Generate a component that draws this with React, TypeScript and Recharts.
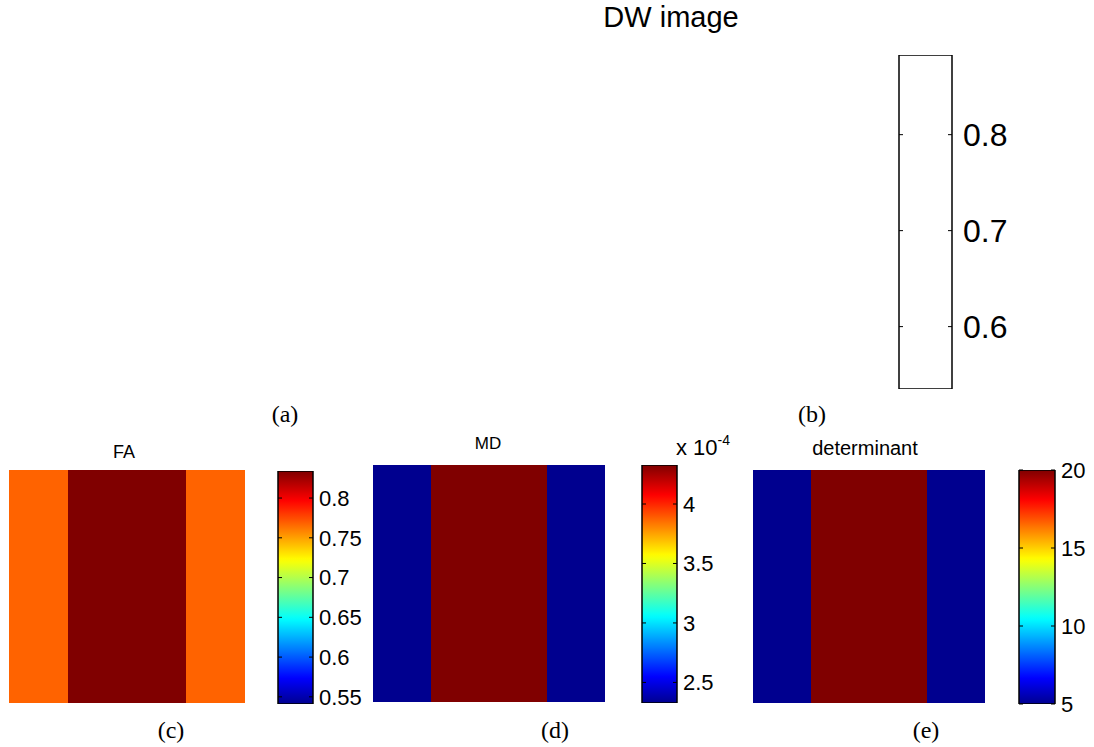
import React from 'react'
import { BarChart, Bar, XAxis, YAxis, Cell } from 'recharts'

/* ------------------------------------------------------------------ */
/*  Data                                                               */
/* ------------------------------------------------------------------ */

// image columns (left to right), each panel is 4 equal-width columns
const COLUMNS = ['col1', 'col2', 'col3', 'col4']

const FA_VALUES = [0.768, 0.834, 0.834, 0.768]
const MD_VALUES = [2.327, 4.328, 4.328, 2.327] // x 10^-4
const DET_VALUES = [5, 20, 20, 5]

// colour limits of each colorbar
const FA_RANGE: [number, number] = [0.541, 0.834]
const MD_RANGE: [number, number] = [2.327, 4.328]
const DET_RANGE: [number, number] = [5, 20]
const DW_RANGE: [number, number] = [0.535, 0.883]

const FA_TICKS = [0.55, 0.6, 0.65, 0.7, 0.75, 0.8]
const MD_TICKS = [2.5, 3, 3.5, 4]
const DET_TICKS = [5, 10, 15, 20]
const DW_TICKS = [0.6, 0.7, 0.8]

const SANS = '"Liberation Sans", Arial, Helvetica, sans-serif'
const SERIF = '"Liberation Serif", "Times New Roman", serif'

/* ------------------------------------------------------------------ */
/*  MATLAB jet colormap                                                */
/* ------------------------------------------------------------------ */

const ramp = (j: number): number => {
  if (j <= 0 || j >= 48) return 0
  if (j <= 16) return j / 16
  if (j <= 32) return 1
  return (48 - j) / 16
}

const jet = (f: number): string => {
  const t = Math.max(0, Math.min(1, f))
  const k = 1 + t * 63
  const c = (v: number) => Math.round(v * 255)
  return `rgb(${c(ramp(k - 24))},${c(ramp(k - 8))},${c(ramp(k + 8))})`
}

const jetOf = (v: number, range: [number, number]) =>
  jet((v - range[0]) / (range[1] - range[0]))

const JET_STOPS = Array.from({ length: 65 }, (_, i) => i / 64)

/* ------------------------------------------------------------------ */
/*  Stripe image                                                       */
/* ------------------------------------------------------------------ */

interface ImageProps {
  values: number[]
  range: [number, number]
  width: number
  height: number
}

function StripeImage({ values, range, width, height }: ImageProps) {
  const data = COLUMNS.map((col, i) => ({ col, value: values[i], rows: 1 }))
  return (
    <BarChart
      width={width}
      height={height}
      data={data}
      margin={{ top: 0, right: 0, bottom: 0, left: 0 }}
      barCategoryGap={0}
      barGap={0}
    >
      <XAxis dataKey="col" hide />
      <YAxis hide domain={[0, 1]} />
      <Bar dataKey="rows" isAnimationActive={false} shapeRendering="crispEdges">
        {data.map((d) => (
          <Cell key={d.col} fill={jetOf(d.value, range)} shapeRendering="crispEdges" />
        ))}
      </Bar>
    </BarChart>
  )
}

/* ------------------------------------------------------------------ */
/*  Colorbar                                                           */
/* ------------------------------------------------------------------ */

interface ColorbarProps {
  id: string
  range: [number, number]
  ticks: number[]
  barWidth: number
  barHeight: number
  axisWidth: number
  fontSize: number
  gap: number
  jetFill?: boolean
}

function Colorbar({ id, range, ticks, barWidth, barHeight, axisWidth, fontSize, gap, jetFill = true }: ColorbarProps) {
  const pad = Math.ceil(fontSize * 0.6)
  const left = 1
  const right = left + barWidth
  const data = [{ name: 'cb', top: range[1] }]

  const renderTick = (props: any) => {
    const { y, payload } = props
    return (
      <g>
        <line x1={left} x2={left + 4} y1={y} y2={y} stroke="#000" strokeWidth={1} />
        <line x1={right - 4} x2={right} y1={y} y2={y} stroke="#000" strokeWidth={1} />
        <text x={right + gap} y={y} dy="0.36em" fontSize={fontSize} fontFamily={SANS} fill="#000">
          {String(payload.value)}
        </text>
      </g>
    )
  }

  return (
    <BarChart
      width={left + barWidth + axisWidth}
      height={barHeight + pad * 2}
      data={data}
      margin={{ top: pad, bottom: pad, left, right: 0 }}
      barCategoryGap={0}
    >
      <defs>
        <linearGradient id={id} x1="0" y1="1" x2="0" y2="0">
          {JET_STOPS.map((s) => (
            <stop key={s} offset={`${s * 100}%`} stopColor={jet(s)} />
          ))}
        </linearGradient>
      </defs>
      <XAxis dataKey="name" hide />
      <YAxis
        orientation="right"
        type="number"
        domain={range}
        ticks={ticks}
        interval={0}
        tick={renderTick}
        tickLine={false}
        axisLine={false}
        width={axisWidth}
        allowDataOverflow
      />
      <Bar
        dataKey="top"
        fill={jetFill ? `url(#${id})` : '#ffffff'}
        stroke="#000"
        strokeWidth={1.5}
        isAnimationActive={false}
      />
    </BarChart>
  )
}

/* ------------------------------------------------------------------ */
/*  Layout                                                             */
/* ------------------------------------------------------------------ */

const place = (left: number, top: number): React.CSSProperties => ({
  position: 'absolute',
  left,
  top,
})

export default function App() {
  return (
    <div
      style={{
        position: 'absolute',
        left: 0,
        top: 0,
        width: 1094,
        height: 747,
        background: '#fff',
        overflow: 'hidden',
      }}
    >
      {/* (b) DW colorbar */}
      <div style={place(898, 55 - 20)}>
        <Colorbar id="dwGrad" range={DW_RANGE} ticks={DW_TICKS} barWidth={53} barHeight={334}
          axisWidth={100} fontSize={32} gap={11} jetFill={false} />
      </div>

      {/* (c) FA */}
      <div style={place(9, 470)}>
        <StripeImage values={FA_VALUES} range={FA_RANGE} width={236} height={233} />
      </div>
      <div style={place(277, 471 - 14)}>
        <Colorbar id="faGrad" range={FA_RANGE} ticks={FA_TICKS} barWidth={35} barHeight={233}
          axisWidth={70} fontSize={22} gap={6} />
      </div>

      {/* (d) MD */}
      <div style={place(373, 465)}>
        <StripeImage values={MD_VALUES} range={MD_RANGE} width={232} height={237} />
      </div>
      <div style={place(641, 465 - 14)}>
        <Colorbar id="mdGrad" range={MD_RANGE} ticks={MD_TICKS} barWidth={35} barHeight={238}
          axisWidth={55} fontSize={22} gap={6} />
      </div>

      {/* (e) determinant */}
      <div style={place(753, 470)}>
        <StripeImage values={DET_VALUES} range={DET_RANGE} width={232} height={233} />
      </div>
      <div style={place(1018, 470 - 14)}>
        <Colorbar id="detGrad" range={DET_RANGE} ticks={DET_TICKS} barWidth={36} barHeight={234}
          axisWidth={40} fontSize={22} gap={6} />
      </div>

      {/* titles and panel labels */}
      <svg width={1094} height={747} style={{ position: 'absolute', left: 0, top: 0, pointerEvents: 'none' }}>
        <text x={671} y={27} textAnchor="middle" fontSize={29} fontFamily={SANS}>DW image</text>
        <text x={124} y={458} textAnchor="middle" fontSize={18} fontFamily={SANS}>FA</text>
        <text x={488} y={449} textAnchor="middle" fontSize={17} fontFamily={SANS}>MD</text>
        <text x={865} y={455} textAnchor="middle" fontSize={20} fontFamily={SANS}>determinant</text>
        <text x={676} y={455} fontSize={22} fontFamily={SANS}>
          x 10
          <tspan fontSize={14} dy={-10}>-4</tspan>
        </text>

        <text x={285} y={422} textAnchor="middle" fontSize={24} fontFamily={SERIF}>(a)</text>
        <text x={812} y={422} textAnchor="middle" fontSize={24} fontFamily={SERIF}>(b)</text>
        <text x={171} y={738} textAnchor="middle" fontSize={24} fontFamily={SERIF}>(c)</text>
        <text x={555} y={738} textAnchor="middle" fontSize={24} fontFamily={SERIF}>(d)</text>
        <text x={926} y={738} textAnchor="middle" fontSize={24} fontFamily={SERIF}>(e)</text>
      </svg>
    </div>
  )
}
